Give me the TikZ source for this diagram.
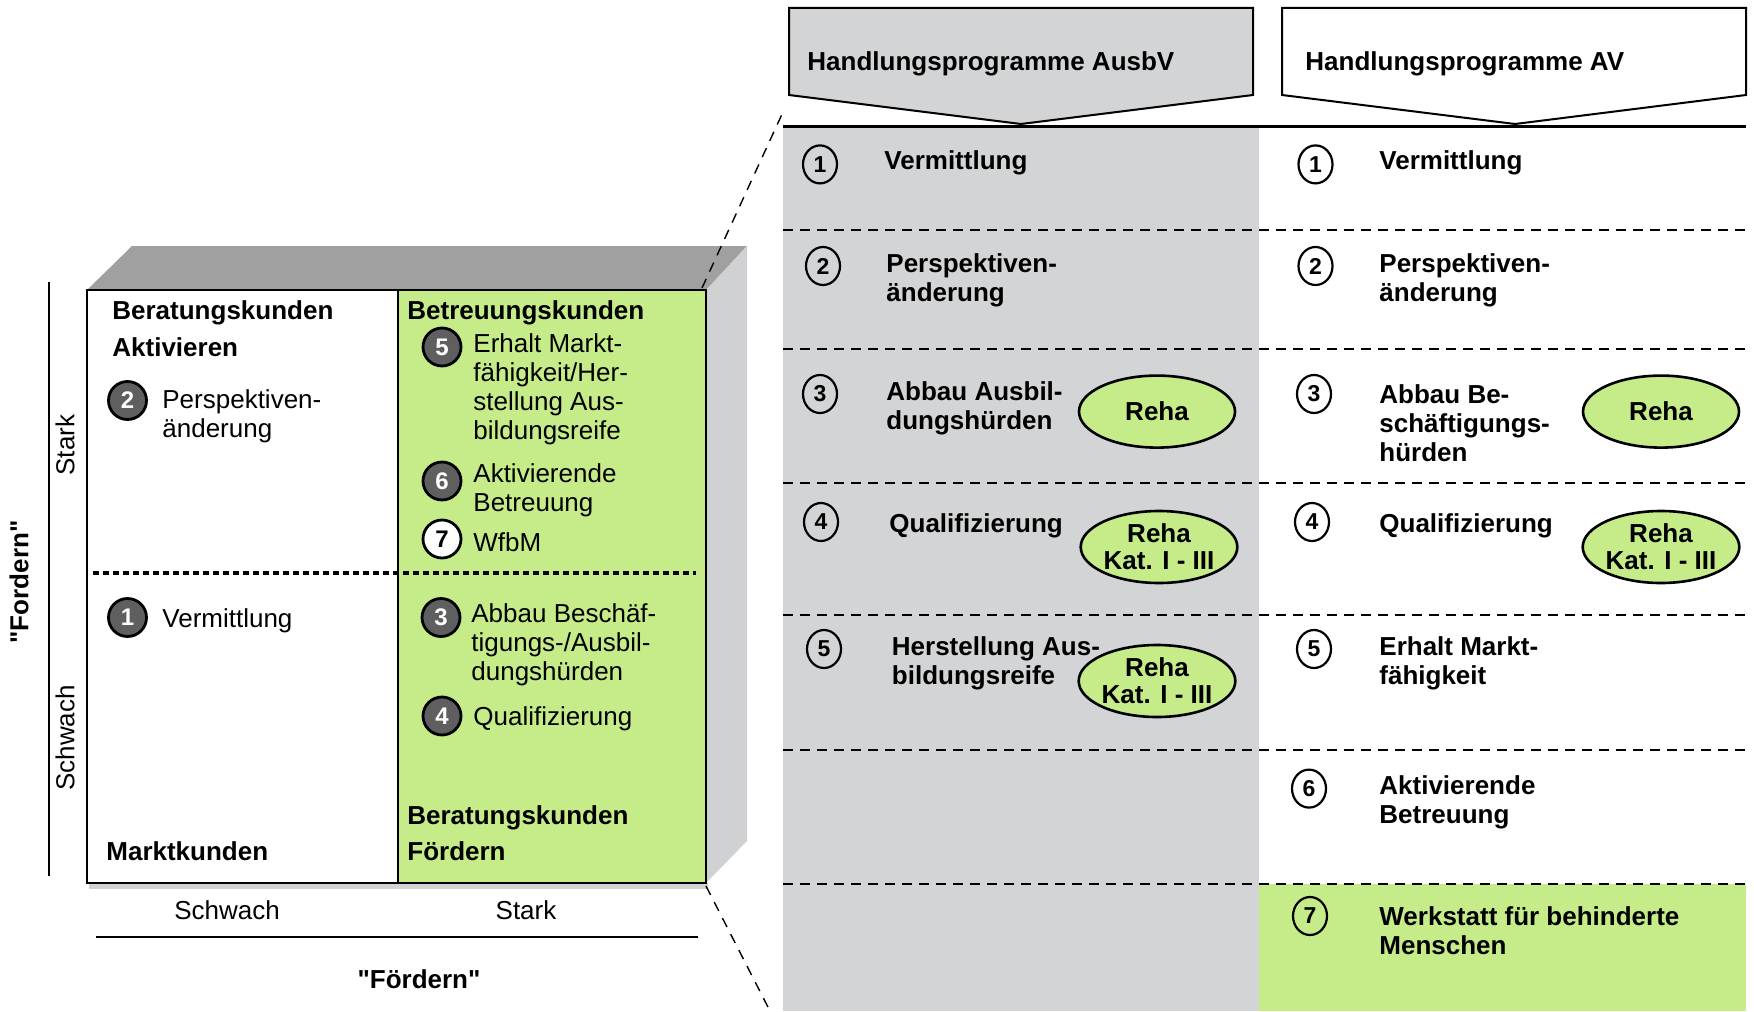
\documentclass[tikz,border=0pt]{standalone}
\usepackage{fontspec}
\setmainfont{Liberation Sans}[Ligatures=TeXOff]
\usetikzlibrary{shapes.geometric}
\definecolor{lgreen}{RGB}{197,236,137}
\definecolor{colgray}{RGB}{211,212,214}
\definecolor{topgray}{RGB}{160,160,160}
\definecolor{sidegray}{RGB}{208,209,211}
\definecolor{numgray}{RGB}{95,95,95}
\begin{document}
\begin{tikzpicture}[x=0.5pt,y=-0.5pt,
  every node/.style={font=\fontsize{13}{14.5}\selectfont},
  txt/.style={anchor=west, inner sep=0pt, align=left, yshift=-1.1pt},
  btxt/.style={anchor=west, inner sep=0pt, align=left, yshift=-1.1pt, font=\fontsize{13}{14.5}\selectfont\bfseries},
  dnum/.style={circle, draw=black, line width=1.4pt, fill=numgray, text=white, minimum size=19pt, inner sep=0pt, font=\fontsize{12}{12}\selectfont\bfseries},
  wnum/.style={circle, draw=black, line width=1.4pt, fill=white, text=black, minimum size=19pt, inner sep=0pt, font=\fontsize{12}{12}\selectfont\bfseries},
  rnum/.style={ellipse, draw=black, line width=1.1pt, minimum width=17pt, minimum height=19pt, inner sep=0pt, font=\fontsize{11.5}{12}\selectfont\bfseries},
  reha/.style={ellipse, draw=black, line width=1.3pt, fill=lgreen, minimum width=78pt, minimum height=36pt, inner sep=0pt, align=center, font=\fontsize{13}{13.5}\selectfont\bfseries},
  rowsep/.style={line width=1pt, dash pattern=on 5pt off 3.5pt},
  link/.style={line width=0.7pt, dash pattern=on 5pt off 4pt}
]
\useasboundingbox (0,0) rectangle (1754,1011);

% ---------- right panel backgrounds ----------
\fill[colgray] (783,126) rectangle (1258.5,1011);
\fill[lgreen] (1258.5,883.7) rectangle (1746,1011);

% banners
\draw[line width=1pt, fill=colgray] (789,8) -- (1253,8) -- (1253,95) -- (1021,124) -- (789,95) -- cycle;
\draw[line width=1pt, fill=white] (1282,8) -- (1746,8) -- (1746,95) -- (1515,124) -- (1282,95) -- cycle;
\node[btxt] (h1) at (807,61.5) {Handlungsprogramme AusbV};
\node[btxt] (h2) at (1305,61.5) {Handlungsprogramme AV};

\draw[line width=1.2pt] (783,126.4) -- (1746,126.4);
\foreach \yy in {230.4,349,483,615,749.5,883.7}
  \draw[rowsep] (783,\yy) -- (1746,\yy);

% rows
\node[rnum] (a1) at (820,164.4) {1};
\node[btxt] (ta1) at (884,161) {Vermittlung};
\node[rnum] (b1) at (1315.5,164.4) {1};
\node[btxt] (tb1) at (1379,161) {Vermittlung};

\node[rnum] (a2) at (823,266) {2};
\node[btxt] (ta2) at (886,278) {Perspektiven-\\änderung};
\node[rnum] (b2) at (1315.5,266) {2};
\node[btxt] (tb2) at (1379,278) {Perspektiven-\\änderung};

\node[rnum] (a3) at (820,394) {3};
\node[btxt] (ta3) at (886,406) {Abbau Ausbil-\\dungshürden};
\node[reha] (ra3) at (1157,411.6) {Reha};
\node[rnum] (b3) at (1314,394) {3};
\node[btxt] (tb3) at (1379,420.6) {Abbau Be-\\schäftigungs-\\hürden};
\node[reha] (rb3) at (1661,411.6) {Reha};

\node[rnum] (a4) at (821,522) {4};
\node[btxt] (ta4) at (889,523.5) {Qualifizierung};
\node[reha] (ra4) at (1159,547) {Reha\\Kat. I - III};
\node[rnum] (b4) at (1312,522) {4};
\node[btxt] (tb4) at (1379,523.5) {Qualifizierung};
\node[reha] (rb4) at (1661,547) {Reha\\Kat. I - III};

\node[rnum] (a5) at (824,649) {5};
\node[btxt] (ta5) at (891.5,661) {Herstellung Aus-\\bildungsreife};
\node[reha] (ra5) at (1157,681) {Reha\\Kat. I - III};
\node[rnum] (b5) at (1314,649) {5};
\node[btxt] (tb5) at (1379,661) {Erhalt Markt-\\fähigkeit};

\node[rnum] (b6) at (1309,788.6) {6};
\node[btxt] (tb6) at (1379,800.5) {Aktivierende\\Betreuung};

\node[rnum] (b7) at (1310,916) {7};
\node[btxt] (tb7) at (1379,928.5) {Werkstatt für behinderte\\Menschen};

% ---------- left 3D box ----------
\fill[topgray] (87,290) -- (132,246) -- (747,246) -- (706,290) -- cycle;
\fill[sidegray] (706,290) -- (747,246) -- (747,841) -- (706,883) -- cycle;
\fill[gray!35] (89,883) rectangle (708,889);
\fill[white] (87,290) rectangle (398,883);
\fill[lgreen] (398,290) rectangle (706,883);
\draw[line width=1.3pt] (87,290) rectangle (706,883);
\draw[line width=1.3pt] (398,290) -- (398,883);
\draw[line width=1.6pt, dash pattern=on 3pt off 2pt] (93,573) -- (696,573);

\coordinate (boxtr) at (702,288);
\coordinate (boxbr) at (706,886);
\coordinate (paneltop) at (783,112);
\coordinate (panelbot) at (770,1011);
\draw[link] (boxtr) -- (paneltop);
\draw[link] (boxbr) -- (panelbot);

\node[btxt] (bak1) at (112,311) {Beratungskunden};
\node[btxt] (bak2) at (112,345) {Aktivieren};
\node[dnum] (c2) at (127.5,400.5) {2};
\node[txt] (t2) at (162,414.5) {Perspektiven-\\änderung};

\node[btxt] (bk) at (407,311) {Betreuungskunden};
\node[dnum] (c5) at (442,347) {5};
\node[txt] (t5) at (473,387) {Erhalt Markt-\\fähigkeit/Her-\\stellung Aus-\\bildungsreife};
\node[dnum] (c6) at (442,481) {6};
\node[txt] (t6) at (473,488.5) {Aktivierende\\Betreuung};
\node[wnum] (c7) at (442,539) {7};
\node[txt] (t7) at (473,540) {WfbM};

\node[dnum] (c1) at (127.5,617.5) {1};
\node[txt] (t1) at (162,618.5) {Vermittlung};
\node[dnum] (c3) at (441,617.5) {3};
\node[txt] (t3) at (471,643) {Abbau Beschäf-\\tigungs-/Ausbil-\\dungshürden};
\node[dnum] (c4) at (442,716) {4};
\node[txt] (t4) at (473,717) {Qualifizierung};

\node[btxt] (mk) at (106,849) {Marktkunden};
\node[btxt] (bf1) at (407,815.5) {Beratungskunden};
\node[btxt] (bf2) at (407,849) {Fördern};

% axes
\draw[line width=1.2pt] (49,282) -- (49,876);
\draw[line width=1.2pt] (96,937) -- (698,937);
\node[rotate=90, inner sep=0pt] (ys) at (65,445) {Stark};
\node[rotate=90, inner sep=0pt] (yw) at (65,738) {Schwach};
\node[rotate=90, inner sep=0pt, font=\fontsize{13}{14.5}\selectfont\bfseries] (yf) at (19,582) {"Fordern"};
\node[inner sep=0pt, yshift=-1.1pt] (xs) at (227,908) {Schwach};
\node[inner sep=0pt, yshift=-1.1pt] (xk) at (526,908) {Stark};
\node[inner sep=0pt, yshift=-1.1pt, font=\fontsize{13}{14.5}\selectfont\bfseries] (xf) at (419,977) {"Fördern"};
\end{tikzpicture}
\end{document}
